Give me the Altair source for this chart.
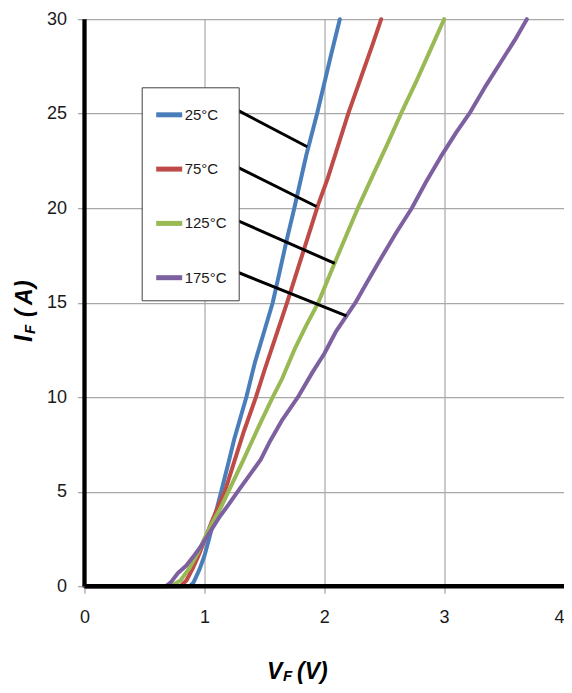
import altair as alt
import pandas as pd

series = ["25°C", "75°C", "125°C", "175°C"]
colors = ["#4a7ebb", "#be4b48", "#98b954", "#7d60a0"]

v25 = [0, 0.5, 0.88, 0.91, 0.96, 1.0, 1.035, 1.08, 1.14, 1.2, 1.25, 1.3, 1.35, 1.42, 1.5, 1.57, 1.63, 1.69, 1.75, 1.8, 1.85, 1.94, 2.0, 2.06, 2.13]
i25 = [0, 0, 0, 0.2, 0.9, 1.6, 2.4, 3.5, 5, 6.5, 7.8, 8.9, 10, 11.8, 13.5, 15, 16.7, 18.4, 20, 21.4, 22.8, 25, 26.6, 28.2, 30]

v75 = [0, 0.5, 0.8, 0.85, 0.9, 0.95, 1.0, 1.06, 1.12, 1.17, 1.25, 1.33, 1.43, 1.5, 1.6, 1.69, 1.78, 1.88, 1.95, 2.03, 2.1, 2.2, 2.3, 2.4, 2.475]
i75 = [0, 0, 0, 0.3, 0.9, 1.6, 2.4, 3.4, 4.3, 5, 6.6, 8.2, 10, 11.4, 13.3, 15, 16.8, 18.8, 20.2, 21.6, 23, 25, 26.8, 28.6, 30]

v125 = [0, 0.5, 0.72, 0.8, 0.87, 0.94, 1.0, 1.07, 1.14, 1.2, 1.32, 1.45, 1.57, 1.65, 1.75, 1.85, 1.95, 2.08, 2.18, 2.28, 2.41, 2.52, 2.64, 2.76, 2.88, 3.0]
i125 = [0, 0, 0, 0.3, 0.9, 1.7, 2.5, 3.4, 4.2, 5, 6.6, 8.4, 10, 11, 12.5, 13.8, 15, 17, 18.5, 20, 21.8, 23.3, 25, 26.6, 28.3, 30]

v175 = [0, 0.5, 0.68, 0.72, 0.78, 0.85, 0.9, 0.97, 1.05, 1.13, 1.2, 1.3, 1.38, 1.47, 1.55, 1.65, 1.78, 1.9, 2.0, 2.1, 2.26, 2.35, 2.45, 2.6, 2.73, 2.85, 2.97, 3.1, 3.22, 3.35, 3.5, 3.6, 3.69]
i175 = [0, 0, 0, 0.2, 0.7, 1.1, 1.5, 2.1, 2.9, 3.7, 4.3, 5.2, 5.9, 6.7, 7.7, 8.8, 10, 11.3, 12.3, 13.5, 15, 16, 17.1, 18.7, 20, 21.4, 22.7, 24.0, 25.1, 26.5, 28, 29, 30]

# leader lines from legend box to curves
lead_x1 = [1.284, 1.284, 1.278, 1.278]
lead_y1 = [25.16, 22.15, 19.34, 16.61]
lead_x2 = [1.858, 1.935, 2.088, 2.185]
lead_y2 = [23.25, 20.09, 17.08, 14.3]

x_ticks = [0, 1, 2, 3, 4]
y_ticks = [0, 5, 10, 15, 20, 25, 30]

rows = []
for name, xs, ys in zip(series, [v25, v75, v125, v175], [i25, i75, i125, i175]):
    for k, (xv, yv) in enumerate(zip(xs, ys)):
        rows.append({"series": name, "volt": xv, "amp": yv, "k": k})
df = pd.DataFrame(rows)

lead_df = pd.DataFrame({"xa": lead_x1, "ya": lead_y1, "xb": lead_x2, "yb": lead_y2})

LABEL_FONT = "Liberation Sans"
TITLE_FONT = "Liberation Sans"

x_scale = alt.Scale(domain=[0, 4], nice=False)
y_scale = alt.Scale(domain=[0, 30], nice=False)

lines = alt.Chart(df).mark_line(strokeWidth=4, strokeJoin="round", strokeCap="round").encode(
    x=alt.X("volt:Q", scale=x_scale,
            axis=alt.Axis(values=x_ticks, title=None, labelPadding=15, format="d",
                          labelAlign={"condition": {"test": "datum.value == 4", "value": "right"},
                                      "value": "center"})),
    y=alt.Y("amp:Q", scale=y_scale,
            axis=alt.Axis(values=y_ticks, title=None, labelPadding=11, format="d")),
    color=alt.Color("series:N", scale=alt.Scale(domain=series, range=colors),
                    legend=alt.Legend(title=None, orient="none", legendX=57.2, legendY=68.1,
                                      symbolType="stroke", symbolSize=676, symbolStrokeWidth=5,
                                      labelFont=LABEL_FONT, labelFontSize=15, labelColor="#1a1a1a",
                                      padding=12, rowPadding=28.3, labelOffset=0,
                                      strokeColor="#404040", fillColor="white")),
    order="k:Q",
)

leaders = alt.Chart(lead_df).mark_rule(color="black", strokeWidth=3).encode(
    x="xa:Q", y="ya:Q", x2="xb:Q", y2="yb:Q"
)

one = alt.Data(values=[{}])
axis_left = alt.Chart(one).mark_rule(color="black", strokeWidth=4.3).encode(
    x=alt.datum(0), y=alt.datum(0), y2=alt.datum(30)
)
axis_bottom = alt.Chart(one).mark_rule(color="black", strokeWidth=4.5).encode(
    x=alt.datum(0), x2=alt.datum(4), y=alt.datum(0)
)

def txt(s, x, y, size, angle=0):
    return alt.Chart(one).mark_text(
        text=s, font=TITLE_FONT, fontSize=size, fontWeight="bold", fontStyle="italic",
        align="left", baseline="alphabetic", angle=angle, color="black"
    ).encode(x=alt.value(x), y=alt.value(y))

titles = [
    txt("V", 182.5, 659.5, 23),
    txt("F", 198.5, 661.5, 15),
    txt("(V)", 212.5, 659.5, 23),
    txt("I", -52.5, 322.8, 25, 270),
    txt("F", -49.5, 314.8, 15, 270),
    txt("(", -52.5, 297.8, 23, 270),
    txt("A", -52.5, 285.8, 23, 270),
    txt(")", -52.5, 268.8, 23, 270),
]

chart = alt.layer(lines, leaders, axis_left, axis_bottom, *titles).properties(
    width=479.5, height=567,
    autosize=alt.AutoSizeParams(type="none"),
    padding={"left": 76.5, "top": 11.2, "right": 0, "bottom": 98.5},
).configure_view(stroke=None).configure_axis(
    grid=True, gridColor="#a8a8a8", gridWidth=1.2, domain=False,
    tickColor="#a0a0a0", tickSize=7, tickWidth=1.2,
    labelFont=LABEL_FONT, labelFontSize=18, labelColor="#1a1a1a",
)

chart.save("out.html", embed_options={"renderer": "svg", "actions": False})
